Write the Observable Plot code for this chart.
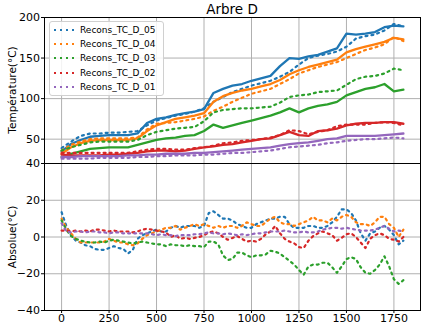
<!DOCTYPE html>
<html>
<head>
<meta charset="utf-8">
<script src="https://cdn.jsdelivr.net/npm/d3@7"></script>
<script src="https://cdn.jsdelivr.net/npm/@observablehq/plot@0.6"></script>
<style>
  html, body { margin: 0; padding: 0; background: #fff; }
  #chart { position: relative; width: 422px; height: 324px; font-family: "DejaVu Sans", sans-serif; overflow: hidden; }
  .abs { position: absolute; }
  .ylab { position: absolute; white-space: nowrap; font-size: 10.5px; transform: translate(-50%, -50%) rotate(-90deg); }
  #legend { position: absolute; left: 49px; top: 21px; width: 115px; height: 75px; border: 1px solid #d0d0d0; border-radius: 3px; background: rgba(255,255,255,0.85); box-sizing: border-box; }
  .lrow { position: absolute; left: 3px; height: 14px; font-size: 9px; line-height: 14px; white-space: nowrap; }
  .lrow svg { position: absolute; left: 0; top: 0; }
  .lrow span { position: absolute; left: 27px; top: 0; }
</style>
</head>
<body>
<div id="chart"></div>
<script>
// ---------- data ----------
const title = "Arbre D";
const yLabelTop = "Température(°C)";
const yLabelBottom = "Absolue(°C)";
const seriesNames = ["Recons_TC_D_05", "Recons_TC_D_04", "Recons_TC_D_03", "Recons_TC_D_02", "Recons_TC_D_01"];
const colors = ["#1f77b4", "#ff7f0e", "#2ca02c", "#d62728", "#9467bd"];

const xTicks = [0, 250, 500, 750, 1000, 1250, 1500, 1750];
const topTicks = [50, 100, 150, 200];
const bottomTicks = [-40, -20, 0, 20, 40];

const tTop = [0,50,100,150,200,250,300,350,400,450,500,550,600,650,700,750,800,850,900,950,1000,1050,1100,1150,1200,1250,1300,1350,1400,1450,1500,1550,1600,1650,1700,1750,1800];

// measured (solid)
const tc05 = [35,44,49,53,54,55,55,55,57,70,75,77,80,82,84,87,107,112,116,118,122,125,128,140,150,149,152,154,158,162,180,179,180,182,188,190,189];
const tc04 = [32,40,45,48,49,49,49,49,51,60,67,71,75,77,79,82,96,103,107,110,112,115,118,123,130,135,139,142,145,148,157,161,164,167,170,175,173];
const tc03 = [28,32,35,38,39,40,40,40,43,46,49,51,52,54,55,60,68,64,67,70,73,76,79,83,88,83,88,91,93,96,104,108,112,114,118,109,111];
const tc02 = [31,30,30,30,30,31,31,32,33,35,36,36,35,36,38,40,41,43,44,46,48,50,51,55,59,55,54,60,61,63,67,69,70,70,71,71,69];
const tc01 = [28,28,29,29,29,29,29,30,30,31,31,32,32,32,33,33,34,35,36,37,38,39,40,42,44,45,46,48,50,51,54,54,54,54,55,56,57];

// reconstructed (dotted)
const rec05 = [39,47,54,57,57,58,58,59,60,67,73,76,79,81,84,88,96,102,108,112,116,119,122,127,133,142,150,153,155,158,164,174,177,179,184,192,189];
const rec04 = [36,43,47,50,51,51,51,51,52,62,69,70,71,73,75,78,85,90,96,101,106,109,112,118,124,131,135,139,142,145,150,155,160,163,167,176,171];
const rec03 = [36,40,43,46,47,47,47,47,49,55,59,61,63,64,65,72,83,86,87,88,88,89,90,95,102,104,105,108,109,110,117,124,127,128,131,137,135];
const rec02 = [33,33,33,33,33,33,33,33,35,37,38,38,37,37,39,40,42,45,46,48,49,50,52,55,61,60,56,59,61,66,68,68,68,70,71,70,67];
const rec01 = [26,26,26,26,27,27,27,27,28,28,29,29,30,30,30,31,31,32,33,33,34,35,36,38,40,41,42,43,45,46,48,49,50,50,51,52,51];

const tBot = [0,25,50,75,100,125,150,175,200,225,250,275,300,325,350,375,400,425,450,475,500,525,550,575,600,625,650,675,700,725,750,775,800,825,850,875,900,925,950,975,1000,1025,1050,1075,1100,1125,1150,1175,1200,1225,1250,1275,1300,1325,1350,1375,1400,1425,1450,1475,1500,1525,1550,1575,1600,1625,1650,1675,1700,1725,1750,1775,1800];

// absolute differences (dotted)
const abs05 = [13.5,6,1,-2,-3,-4.5,-5,-6.5,-7,-7, -6,-5,-6,-6.5,-9,-7,-1,1,2,3, 4,3,3,5,6,5,6,6,6,5, 6,13,14,12,10,10,9,7,6,5, 5,7,8,9,10,10,11,11,7,5, 5,5,6,6,5,5,6,8,11,15, 15,13,9,2,-2,2,3,5,6,4, 1,-4,-2];
const abs04 = [10,5,2,-1,-3,-3,-3,-3,-3,-2.5, -1,-2,-3,-3,-4,-4.5,-3.5,-1,1,2, 3,4,5,5,6,4,5,6,7,6, 7,6,5,6,5,6,6,5,6,8, 7,6,6,8,10,11,8,7,7,6, 7,8,9,11,9,9,8,10,9,11, 12,11,8,7,7,6,8,11,11,7, 5,0,4];
const abs03 = [9,4,0.5,-1,-2,-2.5,-3,-3,-2.5,-3, -2,-1.5,-2,-2.5,-3,-3.5,-3,-2.5,-3,-3.5, -4,-4,-5,-4,-4.5,-4.5,-5,-4.5,-5,-5, -5.5,-2.5,-2.5,-4,-10,-12.5,-12,-8.5,-8.5,-10, -11,-10,-10,-9.5,-7.5,-8,-9,-11,-13,-15, -18,-20.5,-16,-15,-15,-14,-14,-16.5,-19.5,-16, -12,-11,-12,-16.5,-19.5,-20,-18,-15,-10.5,-16, -23,-25.5,-23.5];
const abs02 = [3.5,3.5,3,3.5,3,3.5,3,4,4,3.5, 3,3.5,3,3,3,2.5,3,4,4.5,4, 3.5,3,2.5,0,1,-1,-0.5,-1,-0.5,0, 1,2.5,3,2,0,-1.5,-0.5,0.5,-1,-2.5, -2,-2.5,-1,1.5,3,6,2,-1,-2.5,-3.5, -5.5,-6,-2,0.5,2,3,2,1,-2,-0.5, 1.5,2,0,-3,-6,-1,1,2,1,-1, -1.5,-2.5,0];
const abs01 = [7.5,3,2.5,3,3,2.5,3,3,2.5,2.5, 2,2.5,2.5,2,2,2,2,2,2,1.5, 1,1.5,1,1,0.5,1,1,1,1.5,1.5, 2,2.5,2,2,1.5,2,1.5,1,1.5,1, 1.5,2,2,2.5,3,3,3,3.5,3,2.5, 2.5,3,2.5,2.5,3,4,4.5,5,5,4.5, 5,4.5,4,3.5,3.5,3.5,4,5,6,4.5, 3,3.5,3];

// ---------- build ----------
const measured = [tc05, tc04, tc03, tc02, tc01];
const recons = [rec05, rec04, rec03, rec02, rec01];
const absol = [abs05, abs04, abs03, abs02, abs01];

const toRows = (ts, arr) => arr.map((v, j) => ({t: ts[j], v}));
const X_DOMAIN = [-90, 1890];
const GRID = "#b0b0b0";
const DOT = "2,4";
const fmt = d => d < 0 ? "\u2212" + Math.abs(d) : String(d);
const font = {fontFamily: "DejaVu Sans", fontSize: "11px", background: "transparent", overflow: "visible", color: "black"};

const topMarks = [
  Plot.ruleX(xTicks, {stroke: GRID, strokeWidth: 1}),
  Plot.ruleY(topTicks, {stroke: GRID, strokeWidth: 1})
];
measured.forEach((arr, i) => {
  topMarks.push(Plot.line(toRows(tTop, arr), {x: "t", y: "v", stroke: colors[i], strokeWidth: 2.3, strokeLinejoin: "round"}));
  topMarks.push(Plot.line(toRows(tTop, recons[i]), {x: "t", y: "v", stroke: colors[i], strokeWidth: 2.2, strokeDasharray: DOT}));
});
topMarks.push(Plot.frame({stroke: "black", strokeWidth: 1}));

const topPlot = Plot.plot({
  width: 422, height: 165,
  marginTop: 17, marginBottom: 2, marginLeft: 44, marginRight: 2,
  style: font,
  x: {domain: X_DOMAIN, axis: null},
  y: {domain: [20, 200], ticks: topTicks, tickSize: 3, tickPadding: 1.5, label: null, tickFormat: fmt},
  marks: topMarks
});

const botMarks = [
  Plot.ruleX(xTicks, {stroke: GRID, strokeWidth: 1}),
  Plot.ruleY(bottomTicks, {stroke: GRID, strokeWidth: 1})
];
absol.forEach((arr, i) => {
  botMarks.push(Plot.line(toRows(tBot, arr), {x: "t", y: "v", stroke: colors[i], strokeWidth: 2.2, strokeDasharray: DOT}));
});
botMarks.push(Plot.frame({stroke: "black", strokeWidth: 1}));

const botPlot = Plot.plot({
  width: 422, height: 164,
  marginTop: 3, marginBottom: 14, marginLeft: 44, marginRight: 2,
  style: font,
  x: {domain: X_DOMAIN, ticks: xTicks, tickSize: 3, tickPadding: 0.5, label: null, tickFormat: fmt},
  y: {domain: [-40, 40], ticks: bottomTicks, tickSize: 3, tickPadding: 1.5, label: null, tickFormat: fmt},
  marks: botMarks
});

const chart = document.getElementById("chart");
topPlot.style.position = "absolute"; topPlot.style.left = "0px"; topPlot.style.top = "0px";
botPlot.style.position = "absolute"; botPlot.style.left = "0px"; botPlot.style.top = "160px";
chart.appendChild(topPlot);
chart.appendChild(botPlot);

// title
const t = document.createElement("div");
t.className = "abs";
t.style.cssText = "left:44px;width:376px;top:1px;text-align:center;font-size:13.5px;line-height:16px;";
t.textContent = title;
chart.appendChild(t);

// y labels
[[yLabelTop, 90], [yLabelBottom, 236.5]].forEach(([txt, cy]) => {
  const d = document.createElement("div");
  d.className = "ylab";
  d.style.left = "12px"; d.style.top = cy + "px";
  d.textContent = txt;
  chart.appendChild(d);
});

// legend
const lg = document.createElement("div");
lg.id = "legend";
const rowTops = [29.7, 44, 58.3, 72.7, 87.3];
seriesNames.forEach((name, i) => {
  const r = document.createElement("div");
  r.className = "lrow";
  r.style.top = (rowTops[i] - 21 - 1 - 7) + "px";
  r.innerHTML = `<svg width="24" height="14"><line x1="1" y1="7" x2="22" y2="7" stroke="${colors[i]}" stroke-width="2.2" stroke-dasharray="${DOT}"/></svg><span>${name}</span>`;
  lg.appendChild(r);
});
chart.appendChild(lg);
</script>
</body>
</html>
